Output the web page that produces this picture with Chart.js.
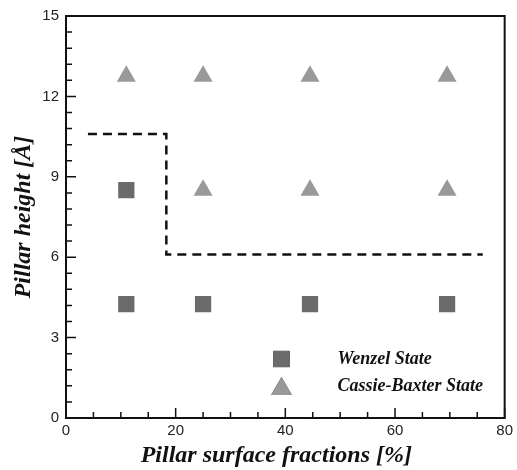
<!DOCTYPE html>
<html>
<head>
<meta charset="utf-8">
<script src="https://cdn.jsdelivr.net/npm/chart.js@4.4.0/dist/chart.umd.min.js"></script>
<style>
  html, body { margin: 0; padding: 0; background: #fff; }
  #wrap { width: 517px; height: 470px; }
</style>
</head>
<body>
<div id="wrap"><canvas id="c"></canvas></div>
<script>
// values
const wenzelX = [11, 25, 44.5, 69.5, 11];
const wenzelY = [4.25, 4.25, 4.25, 4.25, 8.5];
const cassieX = [11, 25, 44.5, 69.5, 25, 44.5, 69.5];
const cassieY = [12.75, 12.75, 12.75, 12.75, 8.5, 8.5, 8.5];
const boundaryX = [4, 18.3, 18.3, 76];
const boundaryY = [10.6, 10.6, 6.1, 6.1];
const xTicks = [0, 20, 40, 60, 80];
const yTicks = [0, 3, 6, 9, 12, 15];
const seriesNames = ['Wenzel State', 'Cassie-Baxter State'];

const toPts = (xs, ys) => xs.map((x, i) => ({x: x, y: ys[i]}));

const serif = '"Liberation Serif", "Times New Roman", serif';
const sans = '"Liberation Sans", Arial, sans-serif';

// ticks pointing into the plot, minor ones included, plus the closed frame
const frame = {
    id: 'frame',
    afterDatasetsDraw(chart) {
        const {ctx, chartArea: a, scales: {x, y}} = chart;
        ctx.save();
        ctx.strokeStyle = '#111';
        ctx.lineWidth = 1.5;
        ctx.beginPath();
        for (let v = 0; v <= 80.01; v += 5) {
            const px = x.getPixelForValue(v);
            const len = v % 20 === 0 ? 10 : 6;
            ctx.moveTo(px, a.bottom);
            ctx.lineTo(px, a.bottom - len);
        }
        for (let k = 0; k <= 25; k++) {
            const py = y.getPixelForValue(k * 0.6);
            const len = k % 5 === 0 ? 10 : 6;
            ctx.moveTo(a.left, py);
            ctx.lineTo(a.left + len, py);
        }
        ctx.stroke();
        ctx.lineWidth = 2;
        ctx.strokeRect(a.left, a.top, a.right - a.left, a.bottom - a.top);
        ctx.restore();
    }
};

// legend sitting inside the plot, lower right
const innerLegend = {
    id: 'innerLegend',
    afterDraw(chart) {
        const ctx = chart.ctx;
        const a = chart.chartArea;
        const x0 = chart.scales.x.getPixelForValue(39.3);
        const rows = [a.bottom - 59, a.bottom - 32];
        ctx.save();
        [0, 1].forEach(i => {
            const ds = chart.data.datasets[i];
            Chart.helpers.drawPoint(ctx, {
                pointStyle: ds.pointStyle,
                radius: i === 0 ? 11.5 : 12,
                borderWidth: 0
            }, x0, rows[i] + (i === 1 ? 3 : 0));
            ctx.fillStyle = ds.backgroundColor;
            ctx.fill();
            ctx.fillStyle = '#111';
            ctx.font = 'italic bold 18px ' + serif;
            ctx.textBaseline = 'middle';
            ctx.textAlign = 'left';
            ctx.fillText(seriesNames[i], x0 + 56, rows[i]);
        });
        ctx.restore();
    }
};

new Chart(document.getElementById('c'), {
    type: 'scatter',
    data: {
        datasets: [{
            label: seriesNames[0],
            data: toPts(wenzelX, wenzelY),
            pointStyle: 'rect',
            pointRadius: 11.5,
            pointHoverRadius: 11.5,
            borderWidth: 0,
            backgroundColor: '#6b6b6b'
        }, {
            label: seriesNames[1],
            data: toPts(cassieX, cassieY),
            pointStyle: 'triangle',
            pointRadius: 11,
            pointHoverRadius: 11,
            borderWidth: 0,
            backgroundColor: '#999999'
        }, {
            label: 'boundary',
            type: 'line',
            data: toPts(boundaryX, boundaryY),
            borderColor: '#111',
            borderWidth: 2.5,
            borderDash: [9, 6],
            pointRadius: 0,
            fill: false,
            tension: 0
        }]
    },
    options: {
        responsive: true,
        maintainAspectRatio: false,
        animation: false,
        layout: {padding: {top: 13, right: 8, left: 0, bottom: 0}},
        plugins: {legend: {display: false}, tooltip: {enabled: false}},
        scales: {
            x: {
                type: 'linear', min: 0, max: 80,
                afterBuildTicks: s => { s.ticks = xTicks.map(v => ({value: v})); },
                afterFit: s => { s.height = 52; },
                grid: {display: false, drawTicks: false},
                border: {display: false},
                ticks: {padding: 4, color: '#222', font: {family: sans, size: 15}, maxRotation: 0},
                title: {
                    display: true, text: 'Pillar surface fractions [%]   ', color: '#111',
                    font: {family: serif, size: 24, weight: 'bold', style: 'italic'},
                    padding: {top: 3, bottom: 0}
                }
            },
            y: {
                type: 'linear', min: 0, max: 15,
                afterBuildTicks: s => { s.ticks = yTicks.map(v => ({value: v})); },
                afterFit: s => { s.width = 66; },
                grid: {display: false, drawTicks: false},
                border: {display: false},
                ticks: {padding: 7, color: '#222', font: {family: sans, size: 15}},
                title: {
                    display: true, text: 'Pillar height [Å]', color: '#111',
                    font: {family: serif, size: 24, weight: 'bold', style: 'italic'},
                    padding: {top: 9, bottom: 0}
                }
            }
        }
    },
    plugins: [frame, innerLegend]
});
</script>
</body>
</html>
